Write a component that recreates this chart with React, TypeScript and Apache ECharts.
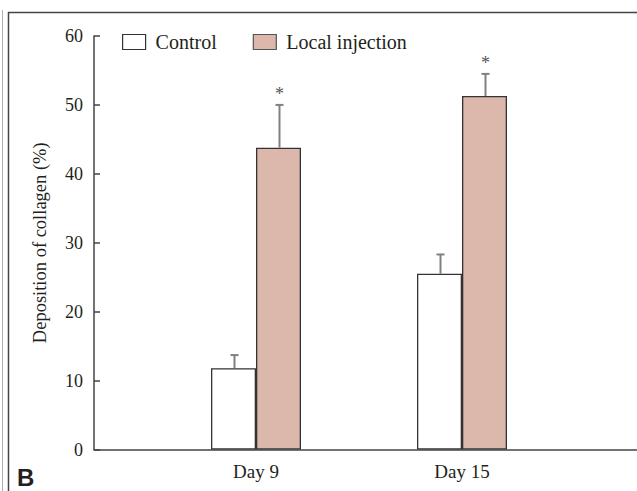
import React, { useEffect, useRef } from "react";
import * as echarts from "echarts";

const categories = ["Day 9", "Day 15"];
const seriesNames = ["Control", "Local injection"];
const controlMeans = [11.8, 25.5];
const controlErrors = [1.9, 2.8];
const injectionMeans = [43.8, 51.3];
const injectionErrors = [6.2, 3.2];
const controlMarks = ["", ""];
const injectionMarks = ["*", "*"];
const yMin = 0;
const yMax = 60;
const yStep = 10;
const yTitle = "Deposition of collagen (%)";
const panelLetter = "B";

const SERIF = "'Liberation Serif', 'Times New Roman', serif";
const TEXT = "#231f20";
const AXIS = "#444";
const BAR_W = 45;
const colors = ["#ffffff", "#dbb8ab"];

export default function App() {
  const ref = useRef<HTMLDivElement>(null);
  useEffect(() => {
    if (!ref.current) return;
    const chart = echarts.init(ref.current, null, { renderer: "svg" });

    const errData: any[] = [];
    categories.forEach((_, i) => {
      errData.push([i, controlMeans[i], controlMeans[i] + controlErrors[i], 0, controlMarks[i]]);
      errData.push([i, injectionMeans[i], injectionMeans[i] + injectionErrors[i], 1, injectionMarks[i]]);
    });

    const option: any = {
      animation: false,
      backgroundColor: "#ffffff",
      legend: {
        left: 122,
        top: 32,
        padding: 0,
        itemWidth: 23,
        itemHeight: 15,
        itemGap: 36,
        icon: "rect",
        textStyle: { fontFamily: SERIF, fontSize: 20, color: TEXT, padding: [0, 0, 0, 5] },
        data: [
          { name: seriesNames[0], itemStyle: { color: colors[0], borderColor: "#333", borderWidth: 1.2 } },
          { name: seriesNames[1], itemStyle: { color: colors[1], borderColor: "#555", borderWidth: 1.2 } },
        ],
      },
      grid: [
        { left: 153, right: 72, top: 36, bottom: 41.5, containLabel: false },
        { left: 94, right: 0, top: 36, bottom: 41.5, containLabel: false },
      ],
      xAxis: [
        {
          type: "category",
          gridIndex: 0,
          data: categories,
          boundaryGap: true,
          axisLine: { show: false },
          axisTick: { show: false },
          axisLabel: { fontFamily: SERIF, fontSize: 19, color: TEXT, margin: 12 },
        },
        {
          type: "value",
          gridIndex: 1,
          min: 0,
          max: 1,
          axisLine: { show: true, lineStyle: { color: AXIS, width: 1.5 } },
          axisTick: { show: false },
          axisLabel: { show: false },
          splitLine: { show: false },
        },
      ],
      yAxis: [
        {
          type: "value",
          gridIndex: 0,
          min: yMin,
          max: yMax,
          interval: yStep,
          offset: 59,
          name: yTitle,
          nameLocation: "middle",
          nameGap: 45,
          nameTextStyle: { fontFamily: SERIF, fontSize: 18.5, color: TEXT },
          axisLine: { show: true, lineStyle: { color: AXIS, width: 1.5 } },
          axisTick: { show: true, inside: true, length: 6, lineStyle: { color: AXIS, width: 1.5 } },
          axisLabel: { fontFamily: SERIF, fontSize: 18, color: TEXT, margin: 11 },
          splitLine: { show: false },
        },
        {
          type: "value",
          gridIndex: 1,
          min: 0,
          max: 1,
          show: false,
        },
      ],
      series: [
        {
          name: seriesNames[0],
          type: "bar",
          xAxisIndex: 0,
          yAxisIndex: 0,
          data: controlMeans,
          barWidth: BAR_W,
          barGap: "0%",
          itemStyle: { color: colors[0], borderColor: "#333", borderWidth: 1.3 },
          z: 2,
        },
        {
          name: seriesNames[1],
          type: "bar",
          xAxisIndex: 0,
          yAxisIndex: 0,
          data: injectionMeans,
          barWidth: BAR_W,
          barGap: "0%",
          itemStyle: { color: colors[1], borderColor: "#333", borderWidth: 1.3 },
          z: 2,
        },
        {
          name: "errors",
          type: "custom",
          xAxisIndex: 0,
          yAxisIndex: 0,
          z: 5,
          silent: true,
          data: errData,
          renderItem: (params: any, api: any) => {
            const cat = api.value(0);
            const mean = api.value(1);
            const top = api.value(2);
            const which = api.value(3);
            const mark = errData[params.dataIndex][4];
            const base = api.coord([cat, mean]);
            const hi = api.coord([cat, top]);
            const x = Math.round(base[0] + (which === 0 ? -1 : 1) * (BAR_W / 2)) + 0.5;
            const children: any[] = [
              {
                type: "line",
                shape: { x1: x, y1: base[1], x2: x, y2: hi[1] },
                style: { stroke: "#808080", lineWidth: 2 },
              },
              {
                type: "line",
                shape: { x1: x - 4, y1: hi[1], x2: x + 4, y2: hi[1] },
                style: { stroke: "#808080", lineWidth: 2 },
              },
            ];
            if (mark) {
              children.push({
                type: "text",
                x: x,
                y: hi[1] - 11,
                style: {
                  text: mark,
                  align: "center",
                  verticalAlign: "middle",
                  textAlign: "center",
                  textVerticalAlign: "middle",
                  fontFamily: SERIF,
                  fontSize: 18,
                  fill: "#555",
                },
              });
            }
            return { type: "group", children };
          },
        },
      ],
      graphic: [
        {
          type: "line",
          shape: { x1: 2.5, y1: 10, x2: 2.5, y2: 491 },
          style: { stroke: "#b0b0b0", lineWidth: 1 },
          silent: true,
        },
        {
          type: "line",
          shape: { x1: 8.5, y1: 12, x2: 8.5, y2: 491 },
          style: { stroke: "#444", lineWidth: 1.5 },
          silent: true,
        },
        {
          type: "line",
          shape: { x1: 8, y1: 12.5, x2: 637, y2: 12.5 },
          style: { stroke: "#444", lineWidth: 1.5 },
          silent: true,
        },
        {
          type: "text",
          left: 17,
          top: 465,
          style: {
            text: panelLetter,
            fontFamily: "'Liberation Sans', Arial, sans-serif",
            fontWeight: "bold",
            fontSize: 24,
            fill: TEXT,
          },
          silent: true,
        },
      ],
    };
    chart.setOption(option);
    return () => chart.dispose();
  }, []);

  return (
    <div
      ref={ref}
      style={{ position: "fixed", left: 0, top: 0, width: 637, height: 491, background: "#fff" }}
    />
  );
}
